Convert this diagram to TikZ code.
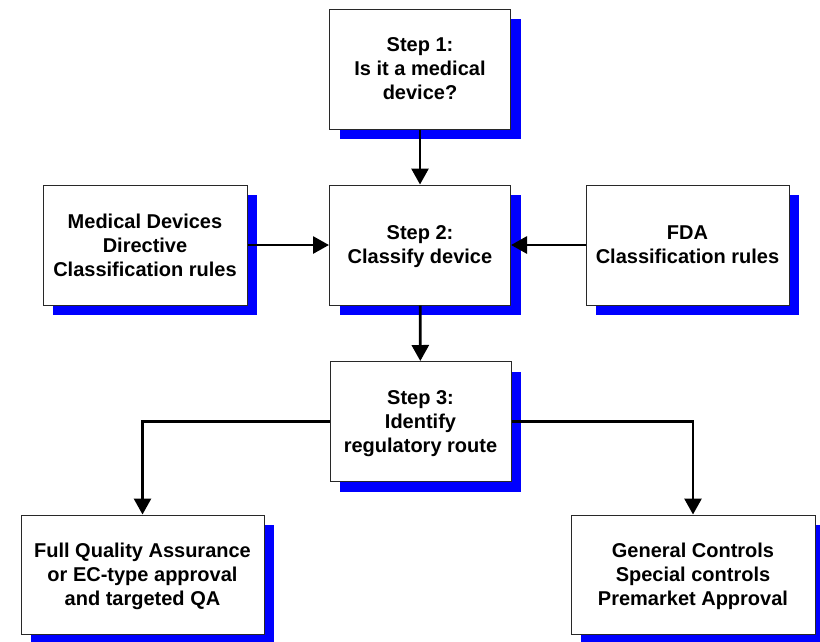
\documentclass[tikz,border=0pt]{standalone}
\usepackage{fontspec}
\setmainfont{Liberation Sans}
\usetikzlibrary{arrows.meta, positioning, shadows}
\definecolor{shadowblue}{RGB}{0, 0, 255}
\definecolor{boxline}{RGB}{40, 40, 40}

\begin{document}
\begin{tikzpicture}[x=1pt, y=-1pt,
    font=\bfseries\fontsize{20}{24}\selectfont,
    stepbox/.style={draw=boxline, line width=1pt, fill=white, align=center,
      inner sep=0pt, minimum width=181pt, minimum height=120pt,
      text depth=-6pt,
      drop shadow={shadow xshift=10pt, shadow yshift=-10pt,
                   fill=shadowblue, opacity=1}},
    flow/.style={line width=2.8pt, -{Triangle[length=16pt, width=17pt]}}]
  \useasboundingbox (0,0) rectangle (820,641);

  % steps in the middle column
  \node[stepbox] (step1) at (420,69) {Step 1:\\Is it a medical\\device?};
  \node[stepbox] (step2) at (420,245) {Step 2:\\Classify device};
  \node[stepbox] (step3) at (420.5,421.5) {Step 3:\\Identify\\regulatory route};

  % rule sets on either side
  \node[stepbox, minimum width=204pt] (mdd) at (145,245)
    {Medical Devices\\Directive\\Classification rules};
  \node[stepbox, minimum width=203pt] (fda) at (687.5,245)
    {FDA\\Classification rules};

  % regulatory routes
  \node[stepbox, minimum width=243pt, minimum height=119pt] (euroute) at (142.5,574.5)
    {Full Quality Assurance\\or EC-type approval\\and targeted QA};
  \node[stepbox, minimum width=244pt, minimum height=119pt] (usroute) at (693,574.5)
    {General Controls\\Special controls\\Premarket Approval};

  \draw[flow] (step1) -- (step2);
  \draw[flow] (mdd) -- (step2);
  \draw[flow] (fda) -- (step2);
  \draw[flow] (step2) -- (step3);
  \draw[flow] (step3.west) -| (euroute.north);
  \draw[flow] (step3.east) -| (usroute.north);
\end{tikzpicture}
\end{document}
